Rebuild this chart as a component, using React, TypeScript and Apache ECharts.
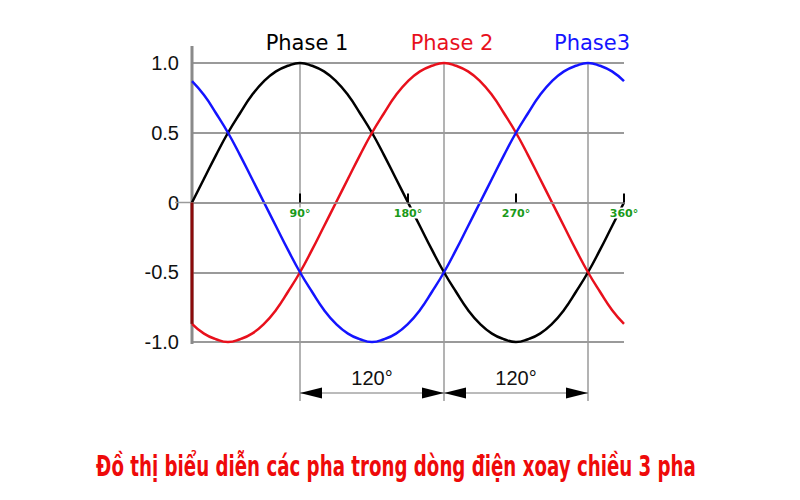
import React, { useEffect, useRef } from "react";
import * as echarts from "echarts";

// Angle samples (degrees) and the three phase values
const degrees = [0, 10, 20, 30, 40, 50, 60, 70, 80, 90, 100, 110, 120, 130, 140, 150, 160, 170, 180, 190, 200, 210, 220, 230, 240, 250, 260, 270, 280, 290, 300, 310, 320, 330, 340, 350, 360];
const phase1 = [0, 0.17, 0.34, 0.5, 0.64, 0.77, 0.87, 0.94, 0.98, 1, 0.98, 0.94, 0.87, 0.77, 0.64, 0.5, 0.34, 0.17, 0, -0.17, -0.34, -0.5, -0.64, -0.77, -0.87, -0.94, -0.98, -1, -0.98, -0.94, -0.87, -0.77, -0.64, -0.5, -0.34, -0.17, 0];
const phase2 = [-0.87, -0.94, -0.98, -1, -0.98, -0.94, -0.87, -0.77, -0.64, -0.5, -0.34, -0.17, 0, 0.17, 0.34, 0.5, 0.64, 0.77, 0.87, 0.94, 0.98, 1, 0.98, 0.94, 0.87, 0.77, 0.64, 0.5, 0.34, 0.17, 0, -0.17, -0.34, -0.5, -0.64, -0.77, -0.87];
const phase3 = [0.87, 0.77, 0.64, 0.5, 0.34, 0.17, 0, -0.17, -0.34, -0.5, -0.64, -0.77, -0.87, -0.94, -0.98, -1, -0.98, -0.94, -0.87, -0.77, -0.64, -0.5, -0.34, -0.17, 0, 0.17, 0.34, 0.5, 0.64, 0.77, 0.87, 0.94, 0.98, 1, 0.98, 0.94, 0.87];

const seriesNames = ["Phase 1", "Phase 2", "Phase3"];
const seriesColors = ["#000000", "#e8101c", "#1414ff"];
const peakMarks = [90, 210, 330];
const dimensionLabels = ["120°", "120°"];
const chartTitle = "Đồ thị biểu diễn các pha trong dòng điện xoay chiều 3 pha";

export default function App() {
  const ref = useRef<HTMLDivElement>(null);

  useEffect(() => {
    if (!ref.current) return;
    const chart = echarts.init(ref.current, null, { renderer: "svg" });
    const values = [phase1, phase2, phase3];
    const gridTop = 63;
    const gridBottom = 158;
    const gridHeight = 500 - gridTop - gridBottom;

    chart.setOption({
      animation: false,
      backgroundColor: "#ffffff",
      grid: { left: 192, right: 176, top: gridTop, bottom: gridBottom },
      xAxis: {
        type: "value",
        min: 0,
        max: 360,
        interval: 90,
        z: 3,
        offset: -gridHeight / 2,
        axisLine: { onZero: false, lineStyle: { color: "#999999", width: 1.5 } },
        axisTick: { show: true, inside: true, length: 9, lineStyle: { color: "#000000", width: 2 } },
        splitLine: { show: false },
        axisLabel: {
          formatter: (v: number) => (v === 0 ? "" : v + "°"),
          color: "#1a9a1a",
          fontFamily: "DejaVu Sans",
          fontWeight: "bold",
          fontSize: 11,
          margin: 5,
          backgroundColor: "#ffffff",
          padding: [0, 1],
          showMinLabel: false,
          showMaxLabel: true,
        },
      },
      yAxis: {
        type: "value",
        min: -1,
        max: 1,
        interval: 0.5,
        axisLine: { show: false },
        axisTick: { show: false },
        splitLine: { show: true, lineStyle: { color: "#9a9a9a", width: 2 } },
        axisLabel: {
          formatter: (v: number) => (v === 0 ? "0" : v.toFixed(1)),
          color: "#111111",
          fontFamily: "Liberation Sans, Arial, sans-serif",
          fontSize: 20,
          margin: 13,
        },
      },
      series: [
        ...values.map((vals, k) => ({
          name: seriesNames[k],
          type: "line",
          smooth: true,
          showSymbol: false,
          clip: false,
          z: 2,
          lineStyle: { color: seriesColors[k], width: 2.5 },
          itemStyle: { color: seriesColors[k] },
          data: degrees.map((d, i) => [d, vals[i]]),
        })),
        {
          name: "start",
          type: "line",
          showSymbol: false,
          clip: false,
          z: 4,
          lineStyle: { color: "#8b0a0a", width: 3 },
          data: [
            [degrees[0], phase1[0]],
            [degrees[0], phase2[0]],
          ],
        },
      ],
    });

    const p = (x: number, y: number) => chart.convertToPixel({ gridIndex: 0 }, [x, y]) as number[];
    const [x0, yTop] = p(0, 1);
    const yBottom = p(0, -1)[1];
    const y0 = p(0, 0)[1];
    const dimY = yBottom + 51;
    const gray = "#9a9a9a";

    const graphics: any[] = [];
    // left axis line
    graphics.push({
      type: "line",
      z: 1,
      shape: { x1: x0, y1: yTop - 17, x2: x0, y2: yBottom + 2 },
      style: { stroke: "#8a8a8a", lineWidth: 3 },
    });
    // zero tick extension
    graphics.push({
      type: "line",
      z: 1,
      shape: { x1: x0 - 17, y1: y0, x2: x0, y2: y0 },
      style: { stroke: gray, lineWidth: 1.5 },
    });
    // vertical peak lines
    const peakX = peakMarks.map((m) => p(m, 0)[0]);
    peakX.forEach((x) => {
      graphics.push({
        type: "line",
        z: 1,
        shape: { x1: x, y1: yTop, x2: x, y2: dimY + 8 },
        style: { stroke: gray, lineWidth: 1.5 },
      });
    });
    // dimension arrows
    for (let i = 0; i < peakX.length - 1; i++) {
      const xa = peakX[i];
      const xb = peakX[i + 1];
      graphics.push({
        type: "line",
        z: 1,
        shape: { x1: xa, y1: dimY, x2: xb, y2: dimY },
        style: { stroke: "#777777", lineWidth: 1 },
      });
      graphics.push({
        type: "polygon",
        z: 3,
        shape: { points: [[xa, dimY], [xa + 22, dimY - 5.5], [xa + 22, dimY + 5.5]] },
        style: { fill: "#000000" },
      });
      graphics.push({
        type: "polygon",
        z: 3,
        shape: { points: [[xb, dimY], [xb - 22, dimY - 5.5], [xb - 22, dimY + 5.5]] },
        style: { fill: "#000000" },
      });
      graphics.push({
        type: "text",
        z: 3,
        x: (xa + xb) / 2,
        y: dimY - 15,
        style: {
          text: dimensionLabels[i],
          fill: "#111111",
          fontSize: 20,
          fontFamily: "Liberation Sans, Arial, sans-serif",
          align: "center",
          verticalAlign: "middle",
          textAlign: "center",
          textVerticalAlign: "middle",
        },
      });
    }
    // phase labels
    const labelOffsets = [7, 8, 4];
    peakX.forEach((x, k) => {
      graphics.push({
        type: "text",
        z: 3,
        x: x + labelOffsets[k],
        y: 43,
        style: {
          text: seriesNames[k],
          fill: seriesColors[k],
          fontSize: 21,
          fontFamily: "DejaVu Sans, sans-serif",
          align: "center",
          verticalAlign: "middle",
          textAlign: "center",
          textVerticalAlign: "middle",
        },
      });
    });
    // bottom title, scaled to the reference width
    const titleFont = "bold 28px 'DejaVu Sans'";
    let scaleX = 0.75;
    try {
      const ctx = document.createElement("canvas").getContext("2d");
      if (ctx) {
        ctx.font = titleFont;
        const w = ctx.measureText(chartTitle).width;
        if (w > 0) scaleX = 600 / w;
      }
    } catch (e) {}
    graphics.push({
      type: "text",
      z: 3,
      x: 396,
      y: 467,
      scaleX: scaleX,
      style: {
        text: chartTitle,
        fill: "#ee0a0a",
        fontSize: 28,
        fontWeight: "bold",
        fontFamily: "DejaVu Sans",
        align: "center",
        verticalAlign: "middle",
        textAlign: "center",
        textVerticalAlign: "middle",
      },
    });

    chart.setOption({ graphic: graphics });

    return () => chart.dispose();
  }, []);

  return (
    <div
      ref={ref}
      style={{ position: "fixed", left: 0, top: 0, width: 800, height: 500 }}
    />
  );
}
